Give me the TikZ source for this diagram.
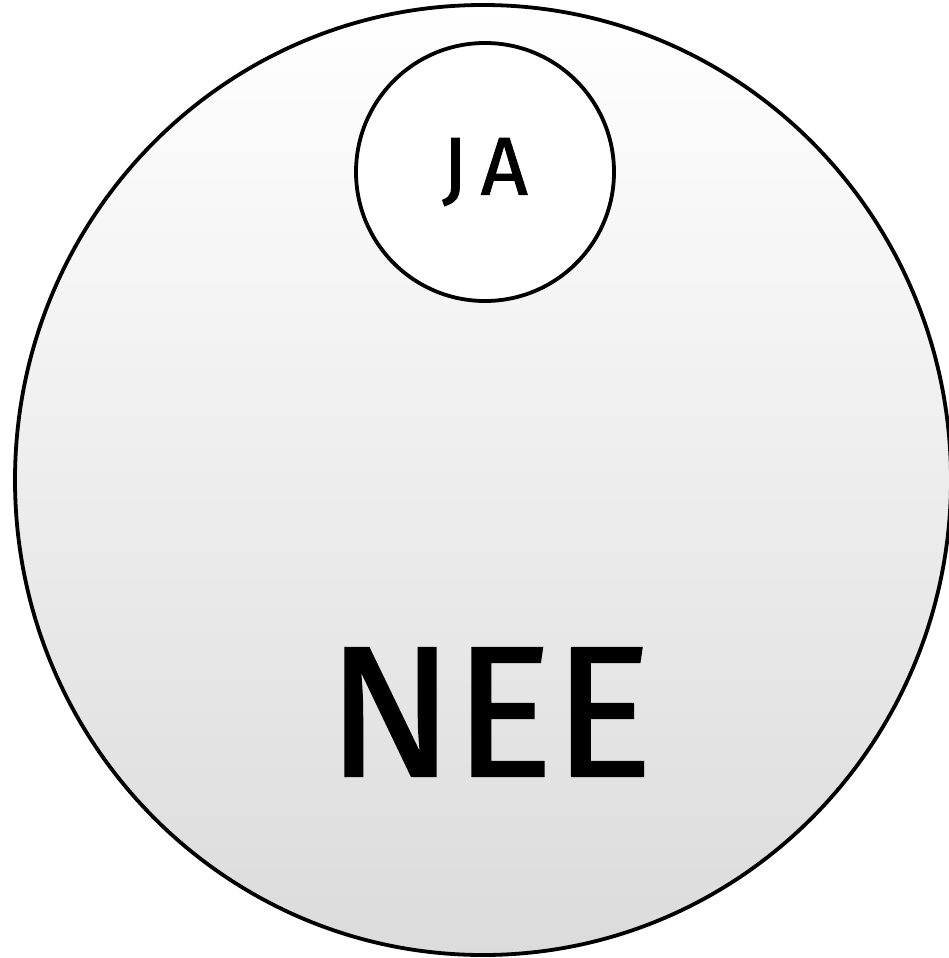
\documentclass[tikz,border=0pt]{standalone}
\usepackage{fontspec}
\setmainfont{Fira Sans}
\newfontfamily\lblfont{Fira Sans}[FakeBold=1.2]
\begin{document}
\begin{tikzpicture}[x=1pt,y=1pt,
  ring/.style={draw=black,line width=3.8pt},
  lbl/.style={text=black,inner sep=0pt}]
\useasboundingbox (0,0) rectangle (949,-958);
\definecolor{topgray}{gray}{1.0}
\definecolor{botgray}{gray}{0.86}
\path[ring,top color=topgray,bottom color=botgray] (483,-480) ellipse [x radius=468,y radius=475];
\node[ring,circle,fill=white,minimum size=258pt,inner sep=0pt] (ja) at (485,-172) {};
\node[lbl,font=\lblfont\fontsize{82}{82}\selectfont] (jat) at (485,-172) {J\,A};
\node[lbl,font=\lblfont\fontsize{186}{186}\selectfont] (nee) at (490,-712) {NEE};
\end{tikzpicture}
\end{document}
